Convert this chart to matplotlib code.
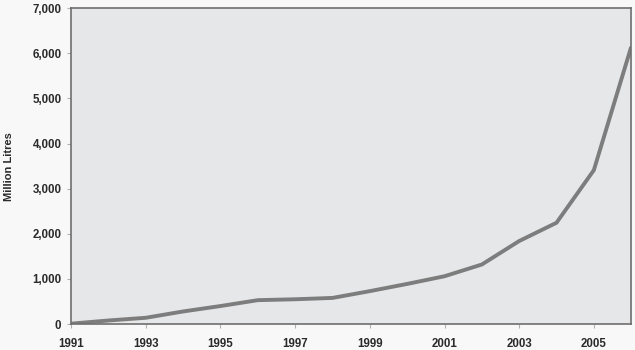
import numpy as np
import matplotlib
matplotlib.use("Agg")
import matplotlib.pyplot as plt
from matplotlib.ticker import FuncFormatter

# data
years = [1991, 1992, 1993, 1994, 1995, 1996, 1997, 1998, 1999,
         2000, 2001, 2002, 2003, 2004, 2005, 2006]
litres = [10, 80, 140, 280, 400, 530, 550, 580, 730,
          890, 1060, 1320, 1840, 2245, 3410, 6140]
xticks = [1991, 1993, 1995, 1997, 1999, 2001, 2003, 2005]
yticks = [0, 1000, 2000, 3000, 4000, 5000, 6000, 7000]

plt.rcParams['font.family'] = ['Liberation Sans', 'DejaVu Sans']

fig = plt.figure(figsize=(6.35, 3.5), dpi=100)
fig.patch.set_facecolor('#f8f8f8')
ax = fig.add_axes([0.112, 0.074, 0.882, 0.903])
ax.set_facecolor('#e6e7e8')

ax.plot(years, litres, color='#7d7d7d', linewidth=2.8, solid_capstyle='butt')

ax.set_xlim(1991, 2006)
ax.set_ylim(0, 7000)
ax.set_xticks(xticks)
ax.set_yticks(yticks)
ax.yaxis.set_major_formatter(FuncFormatter(lambda v, p: f"{int(v):,}"))

for s in ax.spines.values():
    s.set_color('#6e6e6e')
    s.set_linewidth(1.2)

ax.tick_params(axis='both', length=3, width=0.8, color='#b0b0b0',
               labelsize=8.3, labelcolor='#2a2a2a', pad=4)
ax.tick_params(axis='x', pad=7)
for lab in ax.get_xticklabels() + ax.get_yticklabels():
    lab.set_fontweight('bold')

ax.set_ylabel("Million Litres", fontsize=8, fontweight='bold',
              color='#2a2a2a', labelpad=13)

fig.savefig("out.png", dpi=100, facecolor=fig.get_facecolor())
